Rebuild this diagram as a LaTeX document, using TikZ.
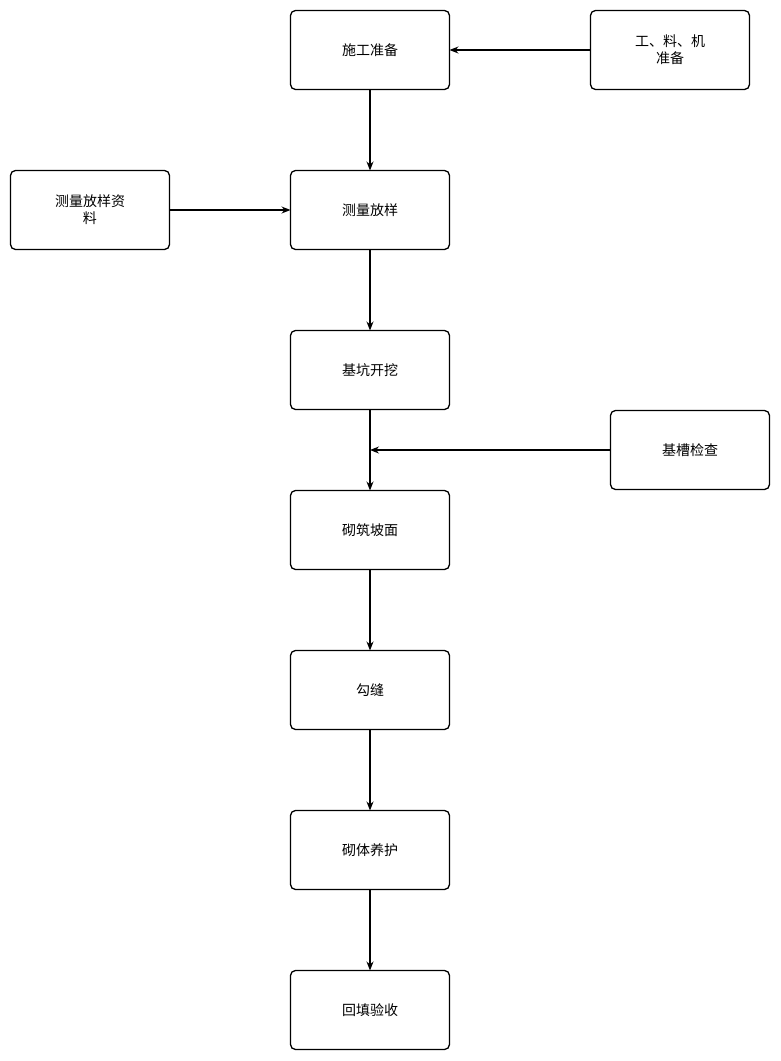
\documentclass[tikz,border=0pt]{standalone}
\usepackage{fontspec}
\setmainfont{Noto Sans CJK SC}
\usetikzlibrary{arrows.meta, positioning}

\begin{document}
\begin{tikzpicture}[x=1pt, y=-1pt, node distance=81pt,
  box/.style={draw=black, line width=1.3pt, rounded corners=5pt, minimum width=159pt, minimum height=79pt, outer sep=0pt, align=center, font=\fontsize{14}{17}\selectfont, inner sep=2pt},
  flow/.style={->, line width=1.2pt, >={Stealth[length=9pt, width=7pt]}}]

\useasboundingbox (0,0) rectangle (780,1061);

% MAIN COLUMN
\node[box] (prep) at (370,50) {施工准备};
\node[box, below=of prep] (survey) {测量放样};
\node[box, below=of survey] (dig) {基坑开挖};
\node[box, below=of dig] (build) {砌筑坡面};
\node[box, below=of build] (joint) {勾缝};
\node[box, below=of joint] (cure) {砌体养护};
\node[box, below=of cure] (fill) {回填验收};

% SIDE INPUTS
\node[box] (labor) at (670,50) {工、料、机\\准备};
\node[box] (data) at (90,210) {测量放样资\\料};
\node[box] (check) at (690,450) {基槽检查};
\coordinate (merge) at (370,450);

% ARROWS
\draw[flow] (prep) -- (survey);
\draw[flow] (survey) -- (dig);
\draw[flow] (dig) -- (build);
\draw[flow] (build) -- (joint);
\draw[flow] (joint) -- (cure);
\draw[flow] (cure) -- (fill);
\draw[flow] (labor) -- (prep);
\draw[flow] (data) -- (survey);
\draw[flow] (check) -- (merge);

\end{tikzpicture}
\end{document}
